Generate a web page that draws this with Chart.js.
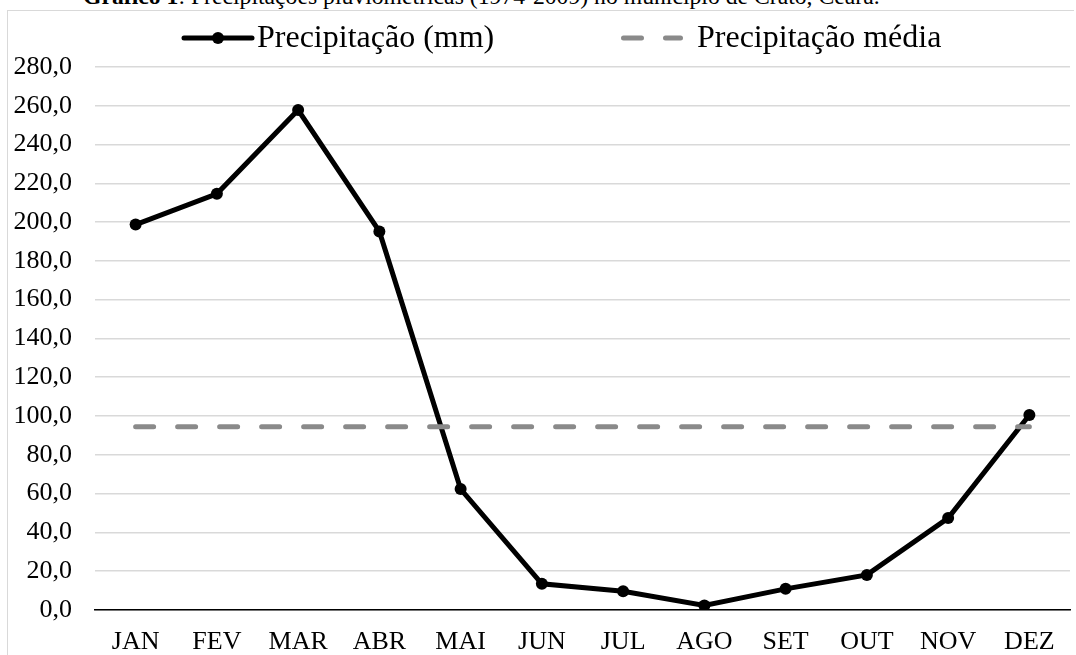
<!DOCTYPE html>
<html lang="pt">
<head>
<meta charset="utf-8">
<script src="https://cdn.jsdelivr.net/npm/chart.js@4"></script>
<style>
  html, body { margin: 0; padding: 0; background: #fff; overflow: hidden; }
  body { width: 1076px; height: 655px; position: relative; }
  .titulo {
    position: absolute; left: 83px; top: -16px;
    font: 23.7px "Liberation Serif", "Times New Roman", serif;
    line-height: 24px; white-space: nowrap; color: #000;
  }
  .moldura {
    position: absolute; left: 7px; top: 10px; width: 1066px; height: 700px;
    border-top: 1px solid #d9d9d9; border-left: 1px solid #d9d9d9;
  }
  #grafico { position: absolute; left: 0; top: 0; }
</style>
</head>
<body>
<div class="titulo"><b>Gráfico 1</b>: Precipitações pluviométricas (1974-2009) no município de Crato, Ceará.</div>
<div class="moldura"></div>
<canvas id="grafico" width="1076" height="700"></canvas>
<script>
const meses = ["JAN", "FEV", "MAR", "ABR", "MAI", "JUN", "JUL", "AGO", "SET", "OUT", "NOV", "DEZ"];
const precipitacao = [198.7, 214.6, 257.8, 195.2, 62.3, 13.4, 9.6, 2.2, 10.8, 18.0, 47.3, 100.5];
const precipitacaoMedia = [94.4, 94.4, 94.4, 94.4, 94.4, 94.4, 94.4, 94.4, 94.4, 94.4, 94.4, 94.4];
const nomesSeries = ["Precipitação (mm)", "Precipitação média"];

const fonte = "'Liberation Serif', 'Times New Roman', serif";
const corMedia = "#8a8a8a";

// legenda desenhada à mão, para ficar igual ao Excel
const legendaTopo = {
  id: "legendaTopo",
  afterDraw(chart) {
    const ctx = chart.ctx;
    const y = 38;
    ctx.save();
    // série 1: linha com marcador
    ctx.strokeStyle = "#000";
    ctx.lineWidth = 5;
    ctx.lineCap = "round";
    ctx.beginPath();
    ctx.moveTo(184, y);
    ctx.lineTo(252, y);
    ctx.stroke();
    ctx.fillStyle = "#000";
    ctx.beginPath();
    ctx.arc(218, y, 6, 0, Math.PI * 2);
    ctx.fill();
    // série 2: tracejada
    ctx.strokeStyle = corMedia;
    ctx.setLineDash([18, 24]);
    ctx.beginPath();
    ctx.moveTo(623.5, y);
    ctx.lineTo(680.5, y);
    ctx.stroke();
    ctx.setLineDash([]);
    ctx.fillStyle = "#000";
    ctx.font = "32px " + fonte;
    ctx.textBaseline = "middle";
    ctx.fillText(nomesSeries[0], 257, y + 1);
    ctx.fillText(nomesSeries[1], 697, y + 1);
    ctx.restore();
  }
};

new Chart(document.querySelector("#grafico"), {
  type: "line",
  data: {
    labels: meses,
    datasets: [
      {
        label: nomesSeries[0],
        data: precipitacao,
        borderColor: "#000",
        backgroundColor: "#000",
        borderWidth: 5,
        pointRadius: 6,
        pointBackgroundColor: "#000",
        pointBorderWidth: 0,
        tension: 0,
        order: 1
      },
      {
        label: nomesSeries[1],
        data: precipitacaoMedia,
        borderColor: corMedia,
        borderWidth: 5,
        borderDash: [18, 24],
        borderCapStyle: "round",
        pointRadius: 0,
        order: 0
      }
    ]
  },
  options: {
    responsive: false,
    animation: false,
    layout: { padding: { top: 67, left: 12, right: 4, bottom: 25 } },
    plugins: {
      legend: { display: false },
      tooltip: { enabled: false }
    },
    scales: {
      x: {
        offset: true,
        grid: { display: false, drawTicks: false },
        border: { display: true, color: "#000", width: 1.5 },
        ticks: { color: "#000", font: { family: fonte, size: 26 }, padding: 17, maxRotation: 0 }
      },
      y: {
        min: 0,
        max: 280,
        afterFit: (scale) => { scale.width = 83; },
        grid: { color: "#d9d9d9", lineWidth: 1.5, drawTicks: false },
        border: { display: false },
        ticks: {
          stepSize: 20,
          color: "#000",
          padding: 23,
          font: { family: fonte, size: 26 },
          callback: (v) => v.toFixed(1).replace(".", ",")
        }
      }
    }
  },
  plugins: [legendaTopo]
});
</script>
</body>
</html>
